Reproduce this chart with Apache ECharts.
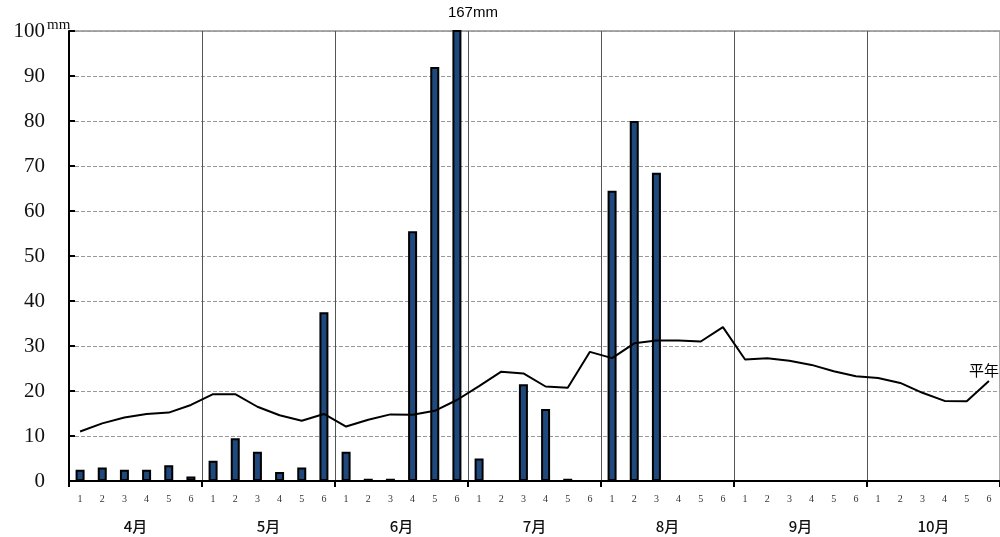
<!DOCTYPE html>
<html><head><meta charset="utf-8">
<script src="https://cdn.jsdelivr.net/npm/echarts@6/dist/echarts.min.js"></script>
<style>html,body{margin:0;padding:0;background:#fff;overflow:hidden}#c{width:1000px;height:537px}</style>
</head><body><div id="c"></div>
<script>
const months = ['4月','5月','6月','7月','8月','9月','10月'];
const halves = ['1','2','3','4','5','6'];
const rain = [
  2.5, 3.0, 2.5, 2.5, 3.5, 1.0,
  4.5, 9.5, 6.5, 2.0, 3.0, 37.5,
  6.5, 0.5, 0.5, 55.5, 92.0, 167,
  5.0, 0, 21.5, 16.0, 0.5, 0,
  64.5, 80.0, 68.5, null, null, null,
  null, null, null, null, null, null,
  null, null, null, null, null, null
];
const normal = [
  11.0, 12.8, 14.1, 14.9, 15.2, 16.9,
  19.3, 19.3, 16.5, 14.6, 13.4, 14.9,
  12.1, 13.6, 14.8, 14.7, 15.6, 18.0,
  21.1, 24.3, 23.9, 21.0, 20.7, 28.7,
  27.3, 30.6, 31.2, 31.2, 31.0, 34.2,
  27.0, 27.3, 26.7, 25.8, 24.4, 23.3,
  22.9, 21.8, 19.6, 17.8, 17.7, 22.2
];
const yMin = 0, yMax = 100, yInterval = 10;
const unitLabel = 'mm';
const normalLabel = '平年';

const categories = [];
months.forEach(m => halves.forEach(h => categories.push(m + '-' + h)));

const chart = echarts.init(document.getElementById('c'), null, {renderer: 'canvas'});
const serif = 'Liberation Serif';
const cjk = 'Noto Sans CJK JP';

const option = {
  animation: false,
  backgroundColor: '#fff',
  grid: {left: 69, top: 31, width: 933, height: 450, show: true, borderColor: '#555', borderWidth: 1, backgroundColor: 'transparent'},
  xAxis: [
    {
      type: 'category', data: categories, boundaryGap: true,
      axisLine: {show: true, lineStyle: {color: '#000', width: 2}},
      axisTick: {show: true, length: 6, interval: (i) => i % 6 === 0, lineStyle: {color: '#000', width: 2}},
      axisLabel: {interval: 0, margin: 13, fontFamily: serif, fontSize: 10, color: '#333',
        formatter: (v) => v.split('-')[1]},
      splitLine: {show: false}
    },
    {
      type: 'category', data: months, boundaryGap: true, position: 'bottom', offset: 30,
      axisLine: {show: false}, axisTick: {show: false},
      axisLabel: {interval: 0, margin: 8, fontFamily: cjk, fontSize: 15, fontWeight: 500, color: '#111'},
      splitLine: {show: true, interval: 0, lineStyle: {color: '#555', width: 1, type: 'solid'}}
    }
  ],
  yAxis: {
    type: 'value', min: yMin, max: yMax, interval: yInterval,
    axisLine: {show: true, lineStyle: {color: '#000', width: 2}},
    axisTick: {show: true, inside: true, length: 6, lineStyle: {color: '#000', width: 2}},
    axisLabel: {margin: 24, fontFamily: serif, fontSize: 21, color: '#111'},
    splitLine: {show: true, lineStyle: {color: '#999', width: 1, type: [4, 2]}}
  },
  series: [
    {
      type: 'bar', xAxisIndex: 0, data: rain, barWidth: 9, clip: true,
      itemStyle: {color: '#1f497d', borderColor: '#000', borderWidth: 2}
    },
    {
      type: 'line', xAxisIndex: 0, data: normal, showSymbol: false, symbol: 'none',
      lineStyle: {color: '#000', width: 2},
      endLabel: {show: true, formatter: normalLabel, offset: [-28, -11], fontFamily: cjk, fontSize: 15, color: '#000'}
    }
  ],
  graphic: []
};
chart.setOption(option);

// unit label and overflow label for bars exceeding the axis max
const g = [{type: 'text', left: 47, top: 18, style: {text: unitLabel, font: '15px "Liberation Serif"', fill: '#111'}}];
rain.forEach((v, i) => {
  if (v != null && v > yMax) {
    const px = chart.convertToPixel({xAxisIndex: 0}, categories[i]);
    g.push({type: 'text', x: px - 9, y: 13, style: {text: v + 'mm', font: '15px "Liberation Sans"', fill: '#000', textAlign: 'left', textVerticalAlign: 'middle'}});
  }
});
chart.setOption({graphic: g});
</script>
</body></html>
